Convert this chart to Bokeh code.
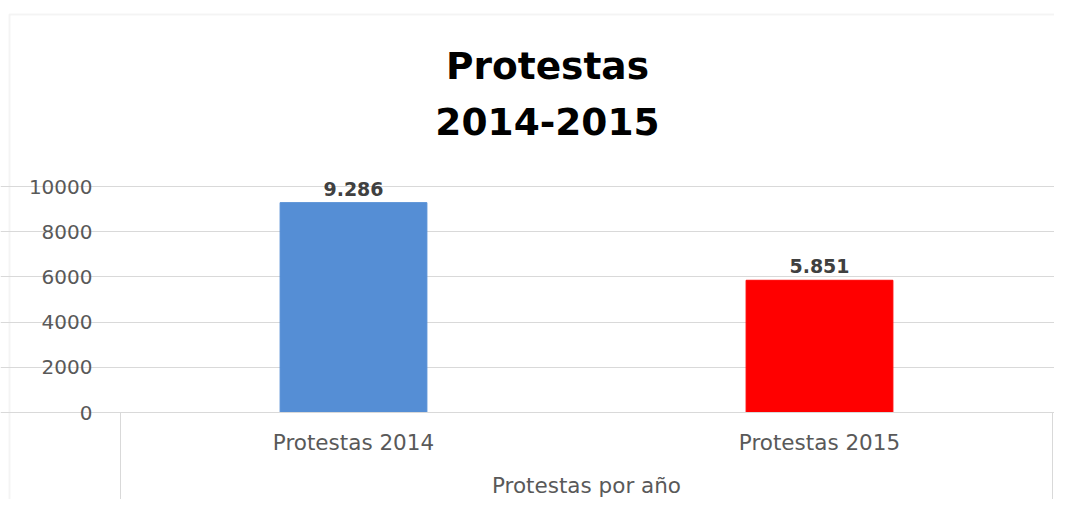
from bokeh.plotting import figure
from bokeh.models import Range1d, FixedTicker, ColumnDataSource, LabelSet, Label, BoxAnnotation
from bokeh.core.properties import value
from bokeh.embed import file_html
from bokeh.resources import INLINE

# ---- data ----
categories = ["Protestas 2014", "Protestas 2015"]
values = [9286, 5851]
bar_colors = ["#558ED5", "#FF0000"]
y_ticks = [0, 2000, 4000, 6000, 8000, 10000]
x_axis_title = "Protestas por año"
title_lines = ["Protestas", "2014-2015"]

# ---- layout constants (canvas pixels) ----
W, H = 1054, 499
PLOT_L, PLOT_R, PLOT_T, PLOT_B = 120, 1052, 186, 412  # plot-area edges
Y_MAX = 10000
N = len(categories)


def px_x(px):
    return (px - PLOT_L) / (PLOT_R - PLOT_L) * N


def px_y(py):
    return (PLOT_B - py) / (PLOT_B - PLOT_T) * Y_MAX


p = figure(width=W, height=H,
           x_range=Range1d(px_x(0), px_x(W)),
           y_range=Range1d(px_y(H), px_y(0)),
           output_backend="svg", toolbar_location=None,
           min_border=0, min_border_left=0, min_border_right=0,
           min_border_top=0, min_border_bottom=0)
p.outline_line_color = None
p.background_fill_color = "white"
p.border_fill_color = "white"

xs = [i + 0.5 for i in range(N)]
labels = [f"{v:,}".replace(",", ".") for v in values]
src = ColumnDataSource(dict(x=xs, top=values, color=bar_colors, label=labels))

# grid
p.xgrid.visible = False
p.ygrid.ticker = FixedTicker(ticks=y_ticks)
p.ygrid.bounds = (0, N)
p.ygrid.grid_line_color = "#D9D9D9"
p.ygrid.grid_line_width = 1

# category-axis box sides (below the baseline, at the plot-area edges)
p.segment(x0=[0, N], x1=[0, N], y0=[0, 0], y1=[px_y(H + 20)] * 2,
          line_color="#D9D9D9", line_width=1)

p.vbar(x="x", top="top", width=0.315, fill_color="color", line_color="color", source=src)

# y axis
p.yaxis.fixed_location = 0
p.yaxis.bounds = (0, Y_MAX)
p.yaxis.ticker = FixedTicker(ticks=y_ticks)
p.yaxis.axis_line_color = None
p.yaxis.major_tick_line_color = None
p.yaxis.minor_tick_line_color = None
p.yaxis.major_label_standoff = 22
p.yaxis.major_label_text_font = "DejaVu Sans"
p.yaxis.major_label_text_font_size = "20px"
p.yaxis.major_label_text_color = "#595959"

# x axis
p.xaxis.fixed_location = 0
p.xaxis.bounds = (0, N)
p.xaxis.ticker = FixedTicker(ticks=xs)
p.xaxis.major_label_overrides = {x: c for x, c in zip(xs, categories)}
p.xaxis.major_tick_line_color = None
p.xaxis.major_tick_out = 0
p.xaxis.major_tick_in = 0
p.xaxis.minor_tick_line_color = None
p.xaxis.axis_line_color = "#D9D9D9"
p.xaxis.major_label_standoff = 17
p.xaxis.major_label_text_font = "DejaVu Sans"
p.xaxis.major_label_text_font_size = "21.5px"
p.xaxis.major_label_text_color = "#595959"
p.xaxis.axis_label = x_axis_title
p.xaxis.axis_label_standoff = 15
p.xaxis.axis_label_text_font = "DejaVu Sans"
p.xaxis.axis_label_text_font_size = "21.5px"
p.xaxis.axis_label_text_font_style = "normal"
p.xaxis.axis_label_text_color = "#595959"

# data labels
p.add_layout(LabelSet(x="x", y="top", text="label", source=src,
                      text_align="center", text_baseline="bottom", y_offset=7,
                      text_font=value("DejaVu Sans"), text_font_style="bold",
                      text_font_size="19px", text_color="#404040"))

# title (two centred lines)
for line, ypos in zip(title_lines, [65, 121]):
    p.add_layout(Label(x=px_x(547), y=px_y(ypos), text=line,
                       text_align="center", text_baseline="middle",
                       text_font="DejaVu Sans", text_font_style="bold",
                       text_font_size="37.5px", text_color="#000000"))

# outer chart border (left and top edges visible)
p.add_layout(BoxAnnotation(left=px_x(9), right=px_x(W + 50), top=px_y(14), bottom=px_y(H + 50),
                           fill_alpha=0, line_color="#D9D9D9", line_width=2))

open("out.html", "w").write(file_html(p, INLINE))
